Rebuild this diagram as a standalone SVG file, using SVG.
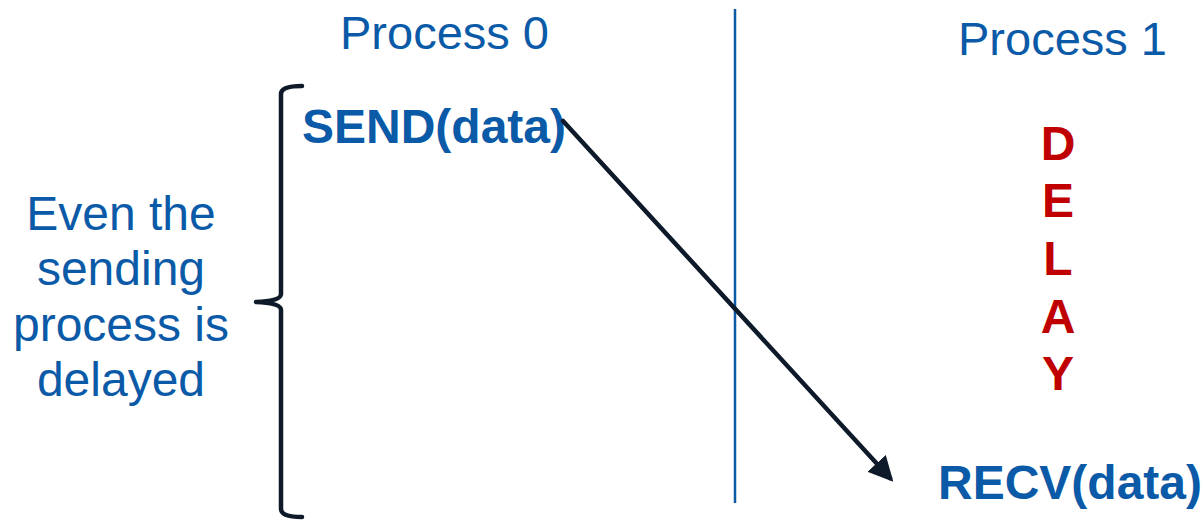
<svg xmlns="http://www.w3.org/2000/svg" width="1203" height="522" viewBox="0 0 1203 522">
  <defs>
    <style>
      .lbl { font-family: "Liberation Sans", Arial, sans-serif; fill: #0A5AA8; }
      .head { font-size: 47px; }
      .call { font-size: 48px; font-weight: bold; }
      .delay { font-family: "Liberation Sans", Arial, sans-serif; font-size: 48px; font-weight: bold; fill: #C00000; text-anchor: middle; }
      .note { font-size: 48px; text-anchor: middle; }
      .ink { fill: none; stroke: #0E1A2A; stroke-width: 4.5; stroke-linecap: round; stroke-linejoin: round; }
    </style>
    <marker id="arrowhead" viewBox="0 0 10 10" refX="8" refY="5" markerWidth="5.5" markerHeight="5.5" orient="auto" markerUnits="strokeWidth">
      <path d="M0,0 L10,5 L0,10 Z" fill="#0E1A2A"/>
    </marker>
  </defs>
  <rect width="1203" height="522" fill="#FFFFFF"/>

  <!-- divider between the two processes -->
  <g id="divider">
    <line x1="735" y1="9" x2="735" y2="503" stroke="#0A5AA8" stroke-width="2.5"/>
  </g>

  <g id="process0-title">
    <text class="lbl head" x="340" y="49">Process 0</text>
  </g>
  <g id="process1-title">
    <text class="lbl head" x="958" y="55">Process 1</text>
  </g>

  <g id="send">
    <text class="lbl call" x="302" y="143">SEND(data)</text>
  </g>
  <g id="recv">
    <text class="lbl call" x="938" y="499">RECV(data)</text>
  </g>

  <g id="delay">
    <text class="delay" x="1058" y="160">D</text>
    <text class="delay" x="1058" y="217">E</text>
    <text class="delay" x="1058" y="275">L</text>
    <text class="delay" x="1058" y="333">A</text>
    <text class="delay" x="1058" y="390">Y</text>
  </g>

  <!-- curly brace spanning the sender's waiting time -->
  <g id="brace">
    <path class="ink" d="M302,86 Q281,86 281,94 L281,294 Q281,301 256,302 Q281,303 281,310 L281,509 Q281,517 302,517"/>
  </g>

  <g id="note">
    <text class="lbl note" x="121" y="230">Even the</text>
    <text class="lbl note" x="121" y="285">sending</text>
    <text class="lbl note" x="121" y="341">process is</text>
    <text class="lbl note" x="121" y="396">delayed</text>
  </g>

  <g id="connectors">
    <line class="ink" x1="563" y1="121" x2="890" y2="478" stroke-width="4" marker-end="url(#arrowhead)"/>
  </g>
</svg>
